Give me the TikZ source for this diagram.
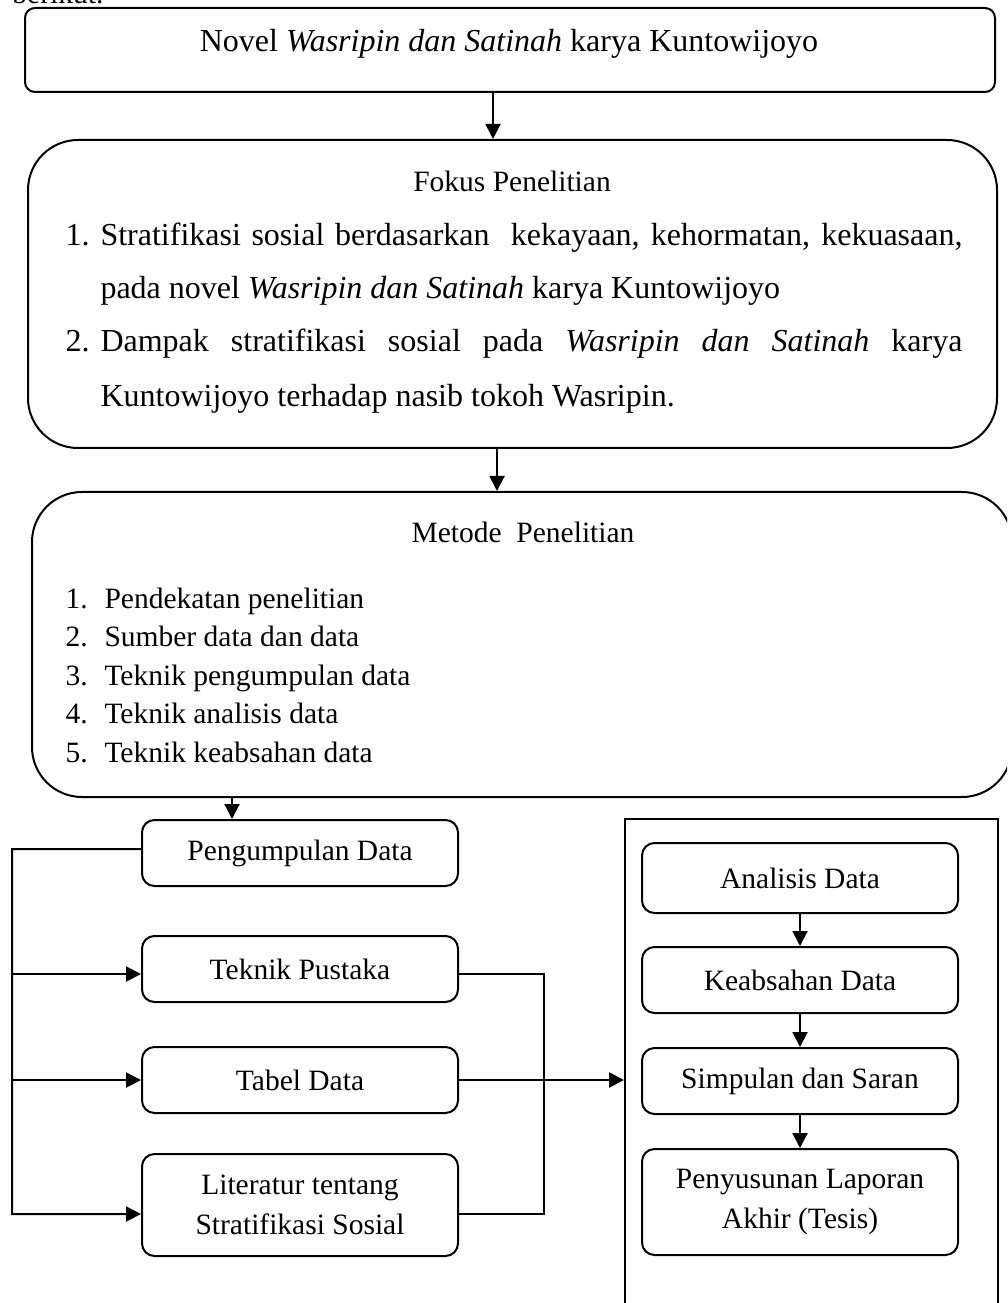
\documentclass[tikz,border=0pt]{standalone}
\usepackage{fontspec}
\setmainfont{Liberation Serif}
\usetikzlibrary{arrows.meta}
\newcommand{\pxu}{0.4pt}
\tikzset{
  kotak/.style={draw, line width=0.8pt, rounded corners=5pt, minimum width=316*\pxu, minimum height=66*\pxu, align=center},
  kotakbesar/.style={draw, line width=0.8pt, rounded corners=20pt},
  panah/.style={line width=0.8pt, -{Triangle[length=6pt,width=6pt]}},
  garis/.style={line width=0.8pt},
  teksbesar/.style={font=\fontsize{12.8pt}{16pt}\selectfont},
}
\begin{document}
\begin{tikzpicture}[x=\pxu, y=-\pxu, inner sep=0pt, font=\fontsize{11.8pt}{16pt}\selectfont]
\useasboundingbox (0,0) rectangle (1007,1303);
\clip (0,0) rectangle (1007,1303);

% kalimat pengantar, terpotong di atas
\node[anchor=base west] (pengantar) at (12,4) {berikut.};

% kotak novel
\node[kotakbesar, rounded corners=4pt, minimum width=970*\pxu, minimum height=84*\pxu] (novel) at (510,50) {};
\node[anchor=base, teksbesar] (judulnovel) at (509,52) {Novel \textit{Wasripin dan Satinah} karya Kuntowijoyo};

% fokus penelitian
\node[kotakbesar, minimum width=969*\pxu, minimum height=308*\pxu] (fokus) at (512.5,294) {};
\node[anchor=base] (judulfokus) at (512,192) {Fokus Penelitian};
\node[anchor=base west, teksbesar] (f1) at (65,246) {1.};
\node[anchor=base west, teksbesar] (f1a) at (100,246) {\makebox[344.8pt][s]{Stratifikasi sosial berdasarkan\ \ kekayaan, kehormatan, kekuasaan,}};
\node[anchor=base west, teksbesar] (f1b) at (100,299) {pada novel \textit{Wasripin dan Satinah} karya Kuntowijoyo};
\node[anchor=base west, teksbesar] (f2) at (65,352) {2.};
\node[anchor=base west, teksbesar] (f2a) at (100,352) {\makebox[344.8pt][s]{Dampak stratifikasi sosial pada \textit{Wasripin dan Satinah} karya}};
\node[anchor=base west, teksbesar] (f2b) at (100,407) {Kuntowijoyo terhadap nasib tokoh Wasripin.};

% metode penelitian
\node[kotakbesar, minimum width=980*\pxu, minimum height=305*\pxu] (metode) at (522,644.5) {};
\node[anchor=base] (judulmetode) at (523,543) {Metode\ \ Penelitian};
\foreach \n/\isi in {1/Pendekatan penelitian, 2/Sumber data dan data, 3/Teknik pengumpulan data, 4/Teknik analisis data, 5/Teknik keabsahan data} {
  \node[anchor=base west] (mn\n) at (65,{608+38.5*(\n-1)}) {\n.};
  \node[anchor=base west] (m\n) at (104,{608+38.5*(\n-1)}) {\isi};
}

\coordinate (p1) at (493,0);
\coordinate (p2) at (497,0);
\coordinate (p3) at (232,0);
\draw[panah] (novel.south -| p1) -- (fokus.north -| p1);
\draw[panah] (fokus.south -| p2) -- (metode.north -| p2);

% kolom kiri
\node[kotak] (pengumpulan) at (300,853) {Pengumpulan Data};
\node[kotak] (teknik) at (300,969) {Teknik Pustaka};
\node[kotak] (tabel) at (300,1080) {Tabel Data};
\node[kotak, minimum height=102*\pxu] (literatur) at (300,1205) {Literatur tentang\\Stratifikasi Sosial};
\draw[panah] (metode.south -| p3) -- (pengumpulan.north -| p3);

\coordinate (pgw) at ([yshift=1.6pt]pengumpulan.west);
\coordinate (tkw) at ([yshift=-2pt]teknik.west);
\coordinate (tke) at ([yshift=-2pt]teknik.east);
\coordinate (ltw) at ([yshift=-3.6pt]literatur.west);
\coordinate (lte) at ([yshift=-3.6pt]literatur.east);
\coordinate (rel) at (12,849);
\draw[panah] (pgw) -- (rel) |- (ltw);
\draw[panah] (rel |- tkw) -- (tkw);
\draw[panah] (rel |- tabel.west) -- (tabel.west);

% kolom kanan
\node[draw, line width=0.8pt, minimum width=373*\pxu, minimum height=520*\pxu, anchor=north west] (kanan) at (624,818) {};
\node[kotak, minimum height=70*\pxu] (analisis) at (800,878) {Analisis Data};
\node[kotak] (keabsahan) at (800,980) {Keabsahan Data};
\node[kotak] (simpulan) at (800,1081) {Simpulan dan Saran};
\node[kotak, minimum height=106*\pxu] (penyusunan) at (800,1202) {Penyusunan Laporan\\Akhir (Tesis)};
\draw[panah] (analisis) -- (keabsahan);
\draw[panah] (keabsahan) -- (simpulan);
\draw[panah] (simpulan) -- (penyusunan);

\coordinate (gabung) at (544,0);
\draw[garis] (tke) -| (gabung |- lte) -- (lte);
\draw[panah] (tabel.east) -- (tabel.east -| kanan.west);
\end{tikzpicture}
\end{document}
